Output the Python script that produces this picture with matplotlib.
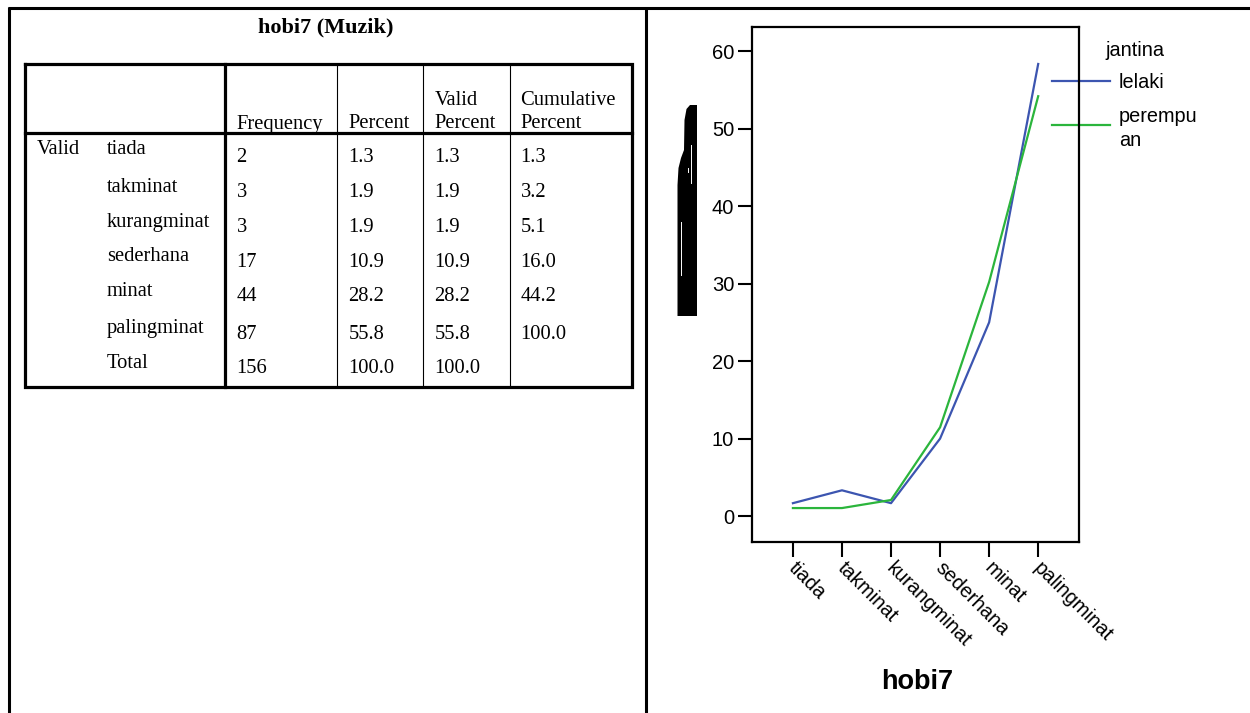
import matplotlib
matplotlib.use("Agg")
import matplotlib.pyplot as plt
from matplotlib.patches import Polygon
from matplotlib.transforms import ScaledTranslation, blended_transform_factory

# ---------------- data ----------------
table_title = "hobi7 (Muzik)"
row_group = "Valid"
row_labels = ["tiada", "takminat", "kurangminat", "sederhana", "minat", "palingminat", "Total"]
frequency = ["2", "3", "3", "17", "44", "87", "156"]
percent = ["1.3", "1.9", "1.9", "10.9", "28.2", "55.8", "100.0"]
valid_percent = ["1.3", "1.9", "1.9", "10.9", "28.2", "55.8", "100.0"]
cumulative_percent = ["1.3", "3.2", "5.1", "16.0", "44.2", "100.0", ""]

categories = ["tiada", "takminat", "kurangminat", "sederhana", "minat", "palingminat"]
lelaki = [1.67, 3.33, 1.67, 10.0, 25.0, 58.33]
perempuan = [1.04, 1.04, 2.08, 11.46, 30.21, 54.17]
y_ticks = [0, 10, 20, 30, 40, 50, 60]
legend_title = "jantina"
series_names = ["lelaki", "perempu\nan"]
x_label = "hobi7"

BLUE = "#3c55b0"
GREEN = "#2bb53c"
W, H = 1250, 713

fig = plt.figure(figsize=(W / 100, H / 100), dpi=100)
base = fig.add_axes([0, 0, 1, 1], zorder=0)
base.set_xlim(0, W)
base.set_ylim(H, 0)
base.axis("off")

# outer frame
base.plot([8, W], [7.5, 7.5], color="black", lw=2.2, solid_capstyle="butt")
base.plot([9, 9], [7, H], color="black", lw=2.2, solid_capstyle="butt")
base.plot([646, 646], [7, H], color="black", lw=2.2, solid_capstyle="butt")

# ---------------- table ----------------
serif = "Liberation Serif"
fs = 14.8
base.text(326, 32, table_title, ha="center", va="baseline", fontsize=16,
          fontweight="bold", family=serif)

L, R, T, B = 25, 632, 64, 387
thick = 2.3
base.plot([L, R, R, L, L], [T, T, B, B, T], color="black", lw=thick,
          solid_joinstyle="miter")
base.plot([L, R], [133, 133], color="black", lw=thick)
base.plot([225, 225], [T, B], color="black", lw=thick)
for xv in [337, 422.5, 509.5]:
    base.plot([xv, xv], [T, B], color="black", lw=0.8)

col_x = [236.5, 348.5, 434.5, 520.5]
base.text(col_x[0], 128.5, "Frequency", ha="left", va="baseline", fontsize=fs, family=serif)
base.text(col_x[1], 128.5, "Percent", ha="left", va="baseline", fontsize=fs, family=serif)
base.text(col_x[2], 105, "Valid", ha="left", va="baseline", fontsize=fs, family=serif)
base.text(col_x[2], 128.5, "Percent", ha="left", va="baseline", fontsize=fs, family=serif)
base.text(col_x[3], 105, "Cumulative", ha="left", va="baseline", fontsize=fs, family=serif)
base.text(col_x[3], 128.5, "Percent", ha="left", va="baseline", fontsize=fs, family=serif)

base.text(37, 154, row_group, ha="left", va="baseline", fontsize=fs, family=serif)
label_base = [154, 192, 226.7, 261, 296, 333, 367.7]
data_base = [162.3, 197.3, 232.3, 266.7, 301, 339, 373.3]
for i, lab in enumerate(row_labels):
    base.text(107, label_base[i], lab, ha="left", va="baseline", fontsize=fs, family=serif)
    for cx, col in zip(col_x, [frequency, percent, valid_percent, cumulative_percent]):
        base.text(cx, data_base[i], col[i], ha="left", va="baseline", fontsize=fs, family=serif)

# ---------------- garbled y-label blob ----------------
blob = Polygon([(697, 105), (690, 105), (686.5, 109), (684.5, 120), (684, 150),
                (681, 158), (678.5, 168), (677.5, 185), (677.5, 316),
                (697, 316)], closed=True, facecolor="black", edgecolor="none")
base.add_patch(blob)
base.plot([691.3, 691.3], [145, 183], color="white", lw=0.7)
base.plot([680.8, 680.8], [222, 275], color="white", lw=0.7)
base.plot([688, 688], [168, 172], color="white", lw=0.7)

# ---------------- legend (drawn under chart frame) ----------------
sans = "Liberation Sans"
lfs = 14.3
base.text(1105, 50, legend_title, ha="left", va="center", fontsize=lfs, family=sans)
base.plot([1052, 1110], [81, 81], color=BLUE, lw=1.6)
base.plot([1052, 1110], [125, 125], color=GREEN, lw=1.6)
base.text(1119, 82, series_names[0], ha="left", va="center", fontsize=lfs, family=sans)
base.text(1119, 117, series_names[1].split("\n")[0], ha="left", va="center", fontsize=lfs, family=sans)
base.text(1119, 140, series_names[1].split("\n")[1], ha="left", va="center", fontsize=lfs, family=sans)

# ---------------- line chart ----------------
left, right, top, bottom = 752.2, 1079.4, 27, 541.7
ax = fig.add_axes([left / W, 1 - bottom / H, (right - left) / W, (bottom - top) / H], zorder=1)
ax.set_facecolor("none")
xs = list(range(len(categories)))
ax.plot(xs, lelaki, color=BLUE, lw=1.6)
ax.plot(xs, perempuan, color=GREEN, lw=1.6)
ax.set_xlim(-0.83, 5.84)
ax.set_ylim(-3.3, 63.1)
ax.set_yticks(y_ticks)
ax.set_yticklabels([str(v) for v in y_ticks], family=sans, fontsize=14.5)
ax.set_xticks(xs)
ax.set_xticklabels([""] * len(categories))
lab_tr = blended_transform_factory(ax.transData, ax.transAxes) + \
    ScaledTranslation(5 / 100, -17 / 100, fig.dpi_scale_trans)
for x, cat in zip(xs, categories):
    ax.text(x, 0, cat, transform=lab_tr, family=sans, fontsize=14.5, rotation=-45,
            ha="left", va="top", rotation_mode="anchor", clip_on=False)
for s in ax.spines.values():
    s.set_linewidth(1.6)
ax.tick_params(axis="y", direction="out", length=10, width=1.5, pad=3)
ax.tick_params(axis="x", direction="out", length=11, width=1.5, pad=1)

fig.text(917 / W, 1 - 682 / H, x_label, ha="center", va="center", fontsize=19.5,
         fontweight="bold", family=sans)

fig.savefig("out.png", dpi=100)
